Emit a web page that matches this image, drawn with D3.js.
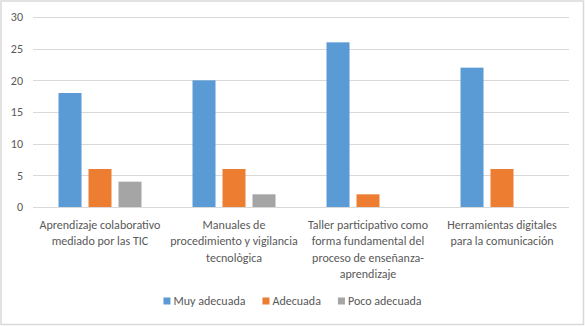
<!DOCTYPE html>
<html>
<head>
<meta charset="utf-8">
<script src="https://cdn.jsdelivr.net/npm/d3@7"></script>
<style>
  html, body { margin: 0; padding: 0; background: #fff; }
  svg { display: block; }
  text { font-family: Carlito, Calibri, Lato, "Liberation Sans", sans-serif; fill: #595959; }
</style>
</head>
<body>
<svg id="chart" width="585" height="326"></svg>
<script>
// ---- data ----
const categories = [
  "Aprendizaje colaborativo\nmediado por las TIC",
  "Manuales de\nprocedimiento y vigilancia\ntecnològica",
  "Taller participativo como\nforma fundamental del\nproceso de enseñanza-\naprendizaje",
  "Herramientas digitales\npara la comunicación"
];
const seriesNames = ["Muy adecuada", "Adecuada", "Poco adecuada"];
const muyAdecuada = [18, 20, 26, 22];
const adecuada = [6, 6, 2, 6];
const pocoAdecuada = [4, 2, 0, 0];
const yTicks = [0, 5, 10, 15, 20, 25, 30];
const colors = ["#5B9BD5", "#ED7D31", "#A5A5A5"];

const seriesValues = [muyAdecuada, adecuada, pocoAdecuada];

const svg = d3.select("#chart");
const W = 585, H = 326;
const plot = { left: 33, right: 569, top: 17, bottom: 207 };

svg.append("rect").attr("x", 1).attr("y", 1).attr("width", W - 2.5).attr("height", H - 2.5)
  .attr("fill", "#fff").attr("stroke", "#D9D9D9").attr("stroke-width", 1.5);

// measure font to match reference metrics
const probe = svg.append("text").attr("font-size", 12).text("Aprendizaje colaborativo");
const measured = probe.node().getComputedTextLength();
probe.remove();
const fs = Math.max(10, Math.min(13, 12 * 121 / measured));

const x0 = d3.scaleBand().domain(categories).range([plot.left, plot.right]).padding(0);
const x1 = d3.scaleBand().domain(seriesNames).range([0, 90]).paddingInner(0.233).paddingOuter(0.117);
const y = d3.scaleLinear().domain([0, 30]).range([plot.bottom, plot.top]);

// gridlines
svg.append("g").selectAll("line").data(yTicks).join("line")
  .attr("x1", plot.left).attr("x2", plot.right)
  .attr("y1", d => Math.round(y(d)) + 0.5).attr("y2", d => Math.round(y(d)) + 0.5)
  .attr("stroke", "#D9D9D9").attr("stroke-width", 1);

// y axis labels
const yAxis = d3.axisLeft(y).tickValues(yTicks).tickSize(0).tickPadding(0);
const ga = svg.append("g").attr("transform", `translate(${plot.left - 10},0)`).call(yAxis);
ga.select(".domain").remove();
ga.selectAll("text").attr("font-size", fs).attr("fill", "#595959")
  .style("font-family", "Carlito, Calibri, Lato, 'Liberation Sans', sans-serif");

// bars
const groups = svg.append("g").selectAll("g").data(categories).join("g")
  .attr("transform", d => `translate(${x0(d) + x0.bandwidth() / 2 - 45},0)`);
groups.selectAll("rect")
  .data((c, i) => seriesNames.map((s, j) => ({ s, j, v: seriesValues[j][i] })).filter(d => d.v > 0))
  .join("rect")
  .attr("x", d => x1(d.s))
  .attr("width", x1.bandwidth())
  .attr("y", d => y(d.v))
  .attr("height", d => y(0) - y(d.v))
  .attr("fill", d => colors[d.j]);

// category labels
const lineH = 16.3;
svg.append("g").selectAll("text").data(categories).join("text")
  .attr("text-anchor", "middle")
  .attr("font-size", fs)
  .attr("x", d => x0(d) + x0.bandwidth() / 2)
  .attr("y", 229)
  .each(function (d) {
    const t = d3.select(this);
    d.split("\n").forEach((ln, k) => {
      t.append("tspan").attr("x", x0(d) + x0.bandwidth() / 2).attr("dy", k === 0 ? 0 : lineH).text(ln);
    });
  });

// legend
const legend = svg.append("g");
let cx = 0;
const items = [];
seriesNames.forEach((s, j) => {
  const g = legend.append("g");
  g.append("rect").attr("x", 0).attr("y", -3.5).attr("width", 7).attr("height", 7).attr("fill", colors[j]);
  const t = g.append("text").attr("x", 10).attr("y", 4.3).attr("font-size", fs).text(s);
  const w = 10 + t.node().getComputedTextLength();
  items.push({ g, w });
});
const gap = 17;
const total = d3.sum(items, d => d.w) + gap * (items.length - 1);
let start = W / 2 - total / 2;
items.forEach(it => { it.g.attr("transform", `translate(${start},301)`); start += it.w + gap; });
</script>
</body>
</html>
